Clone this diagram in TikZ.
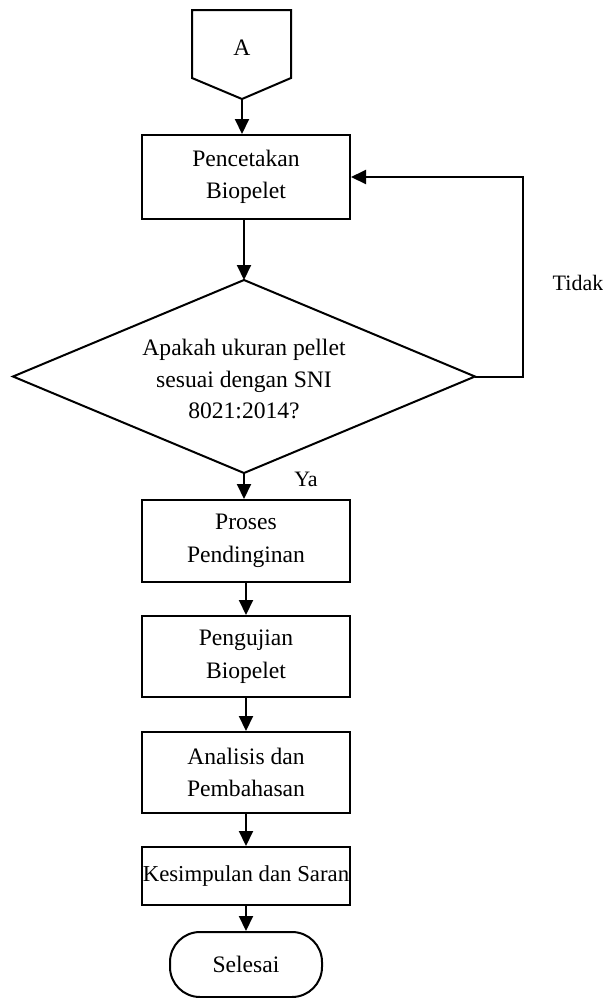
\documentclass[tikz,border=0pt]{standalone}
\usepackage{fontspec}
\setmainfont{Liberation Serif}
\usetikzlibrary{arrows.meta}
\tikzset{
  proc/.style={draw, line width=1pt, minimum width=104pt, inner sep=0pt, align=center, font=\fontsize{11.8}{16.3}\selectfont},
  dtext/.style={inner sep=0pt, align=center, font=\fontsize{11.8}{15.9}\selectfont},
  term/.style={draw, line width=1pt, rounded corners=15pt, minimum width=76pt, minimum height=32.5pt, inner sep=0pt, font=\fontsize{11.8}{16.3}\selectfont},
  lbl/.style={font=\fontsize{11}{13}\selectfont, inner sep=0pt},
  arr/.style={line width=1pt, -{Triangle[width=7pt,length=7.5pt]}},
  ln/.style={line width=1pt, line join=miter}
}
\begin{document}
\begin{tikzpicture}[x=0.5pt,y=-0.5pt]
\useasboundingbox (0,0) rectangle (602,998);
% off-page connector
\draw[ln] (192,10) -- (291,10) -- (291,78) -- (242,99) -- (192,78) -- cycle;
\node[font=\fontsize{11.8}{16.3}\selectfont, inner sep=0pt] (A) at (242,48) {A};
\coordinate (Atip) at (242,99);
% nodes
\node[proc, minimum height=42pt] (b1) at (246,177) {Pencetakan\\Biopelet};
% decision
\coordinate (dN) at (244,280);
\coordinate (dS) at (244,473);
\coordinate (dW) at (13,376.5);
\coordinate (dE) at (475,376.5);
\draw[ln] (dN) -- (dE) -- (dS) -- (dW) -- cycle;
\node[dtext] (d) at (244,379) {Apakah ukuran pellet\\sesuai dengan SNI\\8021:2014?};
\node[proc, minimum height=41pt] (b2) at (246,541) {Proses\\Pendinginan};
\node[proc, minimum height=40.5pt] (b3) at (246,656.5) {Pengujian\\Biopelet};
\node[proc, minimum height=40.5pt] (b4) at (246,772.5) {Analisis dan\\Pembahasan};
\node[proc, minimum height=29pt, font=\fontsize{11.4}{16}\selectfont] (b5) at (246,876) {Kesimpulan dan Saran};
\node[term] (end) at (246,964.5) {Selesai};
\node[lbl] (tidak) at (578,283) {Tidak};
\node[lbl] (ya) at (306,479) {Ya};
% connectors
\draw[arr] (Atip) -- (Atip |- b1.north);
\draw[arr] (b1.south -| dN) -- (dN);
\draw[arr] (dS) -- (dS |- b2.north);
\draw[arr] (b2.south) -- (b3.north);
\draw[arr] (b3.south) -- (b4.north);
\draw[arr] (b4.south) -- (b5.north);
\draw[arr] (b5.south) -- (end.north);
\draw[arr, line join=miter] (dE) -- ++(48,0) |- (b1.east);
\end{tikzpicture}
\end{document}
